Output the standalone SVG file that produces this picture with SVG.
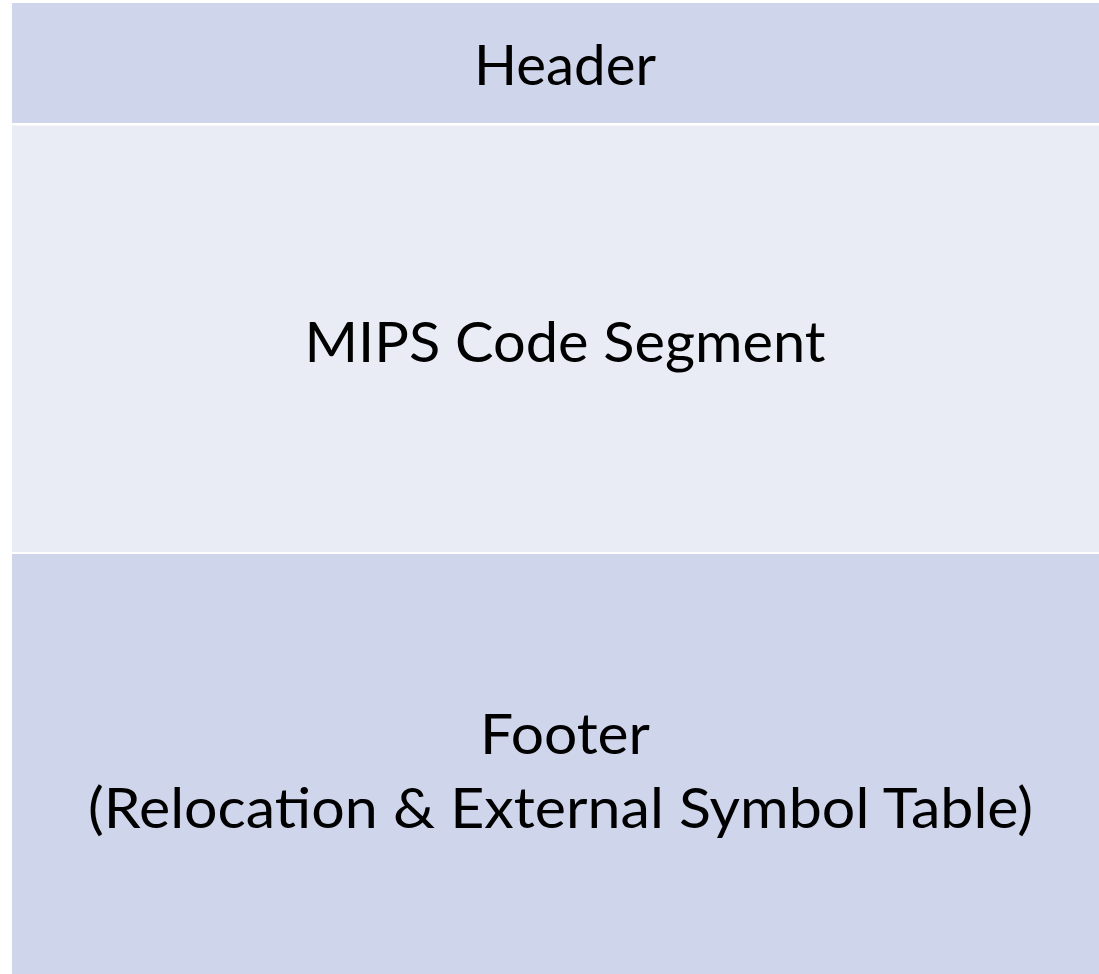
<svg xmlns="http://www.w3.org/2000/svg" width="1099" height="974" viewBox="0 0 1099 974">
<style>
.dark{fill:#CFD5EA}
.light{fill:#E9EBF5}
.t{font-family:Lato,"Liberation Sans",sans-serif;fill:#000;text-anchor:middle;font-size:56px}
</style>
<rect x="0" y="0" width="1099" height="974" fill="#FFFFFF"/>
<g id="header">
<rect class="dark" x="12" y="3" width="1100" height="120"/>
<text class="t" x="565" y="85" textLength="182" lengthAdjust="spacingAndGlyphs">Header</text>
</g>
<g id="code">
<rect class="light" x="12" y="125.5" width="1100" height="426.5"/>
<text class="t" x="565" y="361.7" textLength="521" lengthAdjust="spacingAndGlyphs">MIPS Code Segment</text>
</g>
<g id="footer">
<rect class="dark" x="12" y="554" width="1100" height="420"/>
<text class="t" x="565" y="754" textLength="170" lengthAdjust="spacingAndGlyphs">Footer</text>
<text class="t" x="560.5" y="828" textLength="945" lengthAdjust="spacingAndGlyphs">(Relocation &amp; External Symbol Table)</text>
</g>
<g id="connectors"/>
</svg>
